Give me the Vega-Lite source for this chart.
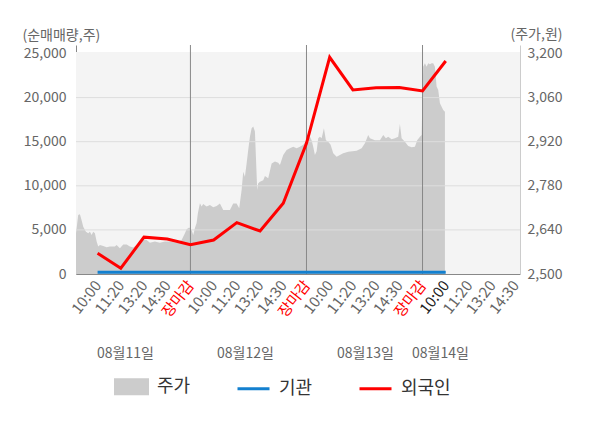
{
  "$schema": "https://vega.github.io/schema/vega-lite/v6.json",
  "width": 444,
  "height": 229,
  "autosize": {"type": "none"},
  "padding": {"left": 76, "top": 45, "right": 80, "bottom": 154},
  "config": {
    "view": {"stroke": null},
    "font": "Noto Sans CJK KR",
    "axis": {
      "labelFont": "Noto Sans CJK KR",
      "labelFontSize": 14,
      "labelColor": "#666666",
      "titleFont": "Noto Sans CJK KR",
      "titleFontSize": 14,
      "titleFontWeight": "normal",
      "titleColor": "#666666",
      "ticks": false,
      "grid": false,
      "domainColor": "#888888",
      "labelOverlap": false,
      "zindex": 1
    },
    "legend": {"labelFont": "Noto Sans CJK KR"}
  },
  "datasets": {
    "price": [
      {"t": 0.07, "price": 2629}, {"t": 0.166, "price": 2687}, {"t": 0.239, "price": 2690},
      {"t": 0.312, "price": 2671}, {"t": 0.381, "price": 2650}, {"t": 0.498, "price": 2634},
      {"t": 0.597, "price": 2629}, {"t": 0.67, "price": 2634}, {"t": 0.743, "price": 2624},
      {"t": 0.812, "price": 2634}, {"t": 0.885, "price": 2629}, {"t": 0.959, "price": 2603},
      {"t": 1.028, "price": 2587}, {"t": 1.101, "price": 2592}, {"t": 1.243, "price": 2589},
      {"t": 1.389, "price": 2585}, {"t": 1.532, "price": 2587}, {"t": 1.747, "price": 2587},
      {"t": 1.82, "price": 2592}, {"t": 1.962, "price": 2582}, {"t": 2.105, "price": 2594},
      {"t": 2.251, "price": 2594}, {"t": 2.393, "price": 2587}, {"t": 2.536, "price": 2584},
      {"t": 2.682, "price": 2592}, {"t": 2.824, "price": 2603}, {"t": 2.966, "price": 2610},
      {"t": 3.113, "price": 2608}, {"t": 3.255, "price": 2599}, {"t": 3.47, "price": 2603},
      {"t": 3.686, "price": 2599}, {"t": 3.901, "price": 2603}, {"t": 4.117, "price": 2603},
      {"t": 4.405, "price": 2599}, {"t": 4.621, "price": 2608}, {"t": 4.763, "price": 2629},
      {"t": 4.836, "price": 2642}, {"t": 4.948, "price": 2648}, {"t": 5.052, "price": 2640},
      {"t": 5.121, "price": 2624}, {"t": 5.194, "price": 2646}, {"t": 5.267, "price": 2662},
      {"t": 5.323, "price": 2694}, {"t": 5.409, "price": 2725}, {"t": 5.483, "price": 2714},
      {"t": 5.551, "price": 2722}, {"t": 5.698, "price": 2714}, {"t": 5.84, "price": 2719},
      {"t": 5.982, "price": 2712}, {"t": 6.129, "price": 2716}, {"t": 6.271, "price": 2724},
      {"t": 6.413, "price": 2703}, {"t": 6.702, "price": 2703}, {"t": 6.844, "price": 2724},
      {"t": 6.99, "price": 2724}, {"t": 7.102, "price": 2709}, {"t": 7.206, "price": 2767},
      {"t": 7.275, "price": 2825}, {"t": 7.348, "price": 2809}, {"t": 7.421, "price": 2851},
      {"t": 7.49, "price": 2894}, {"t": 7.564, "price": 2936}, {"t": 7.637, "price": 2963},
      {"t": 7.706, "price": 2968}, {"t": 7.779, "price": 2952}, {"t": 7.822, "price": 2872},
      {"t": 7.878, "price": 2767}, {"t": 7.921, "price": 2788}, {"t": 7.995, "price": 2793},
      {"t": 8.137, "price": 2798}, {"t": 8.21, "price": 2811}, {"t": 8.352, "price": 2804},
      {"t": 8.499, "price": 2851}, {"t": 8.641, "price": 2857}, {"t": 8.783, "price": 2853},
      {"t": 8.857, "price": 2846}, {"t": 8.999, "price": 2878}, {"t": 9.145, "price": 2894},
      {"t": 9.287, "price": 2899}, {"t": 9.429, "price": 2904}, {"t": 9.576, "price": 2899},
      {"t": 9.718, "price": 2904}, {"t": 9.86, "price": 2910}, {"t": 10.006, "price": 2925},
      {"t": 10.149, "price": 2936}, {"t": 10.222, "price": 2925}, {"t": 10.291, "price": 2904},
      {"t": 10.364, "price": 2878}, {"t": 10.437, "price": 2890}, {"t": 10.506, "price": 2931},
      {"t": 10.579, "price": 2936}, {"t": 10.653, "price": 2931}, {"t": 10.752, "price": 2963},
      {"t": 10.838, "price": 2925}, {"t": 10.937, "price": 2920}, {"t": 11.04, "price": 2910},
      {"t": 11.153, "price": 2883}, {"t": 11.299, "price": 2872}, {"t": 11.441, "price": 2878},
      {"t": 11.583, "price": 2883}, {"t": 11.799, "price": 2888}, {"t": 12.161, "price": 2891},
      {"t": 12.376, "price": 2899}, {"t": 12.518, "price": 2915}, {"t": 12.66, "price": 2941},
      {"t": 12.734, "price": 2931}, {"t": 12.949, "price": 2925}, {"t": 13.165, "price": 2925},
      {"t": 13.307, "price": 2941}, {"t": 13.423, "price": 2931}, {"t": 13.522, "price": 2936},
      {"t": 13.669, "price": 2928}, {"t": 13.811, "price": 2931}, {"t": 13.953, "price": 2936},
      {"t": 14.026, "price": 2976}, {"t": 14.099, "price": 2931}, {"t": 14.241, "price": 2920},
      {"t": 14.384, "price": 2906}, {"t": 14.53, "price": 2902}, {"t": 14.672, "price": 2904},
      {"t": 14.771, "price": 2925}, {"t": 14.888, "price": 2936}, {"t": 14.961, "price": 2941},
      {"t": 15.03, "price": 3158}, {"t": 15.103, "price": 3169}, {"t": 15.177, "price": 3158},
      {"t": 15.246, "price": 3169}, {"t": 15.319, "price": 3166}, {"t": 15.392, "price": 3169},
      {"t": 15.461, "price": 3169}, {"t": 15.534, "price": 3158}, {"t": 15.607, "price": 3095},
      {"t": 15.677, "price": 3084}, {"t": 15.75, "price": 3042}, {"t": 15.823, "price": 3031},
      {"t": 15.892, "price": 3021}, {"t": 15.965, "price": 3015}
    ],
    "flow": [
      {"t": 1, "series": "기관", "value": 200}, {"t": 2, "series": "기관", "value": 200},
      {"t": 3, "series": "기관", "value": 200}, {"t": 4, "series": "기관", "value": 200},
      {"t": 5, "series": "기관", "value": 200}, {"t": 6, "series": "기관", "value": 200},
      {"t": 7, "series": "기관", "value": 200}, {"t": 8, "series": "기관", "value": 200},
      {"t": 9, "series": "기관", "value": 200}, {"t": 10, "series": "기관", "value": 200},
      {"t": 11, "series": "기관", "value": 200}, {"t": 12, "series": "기관", "value": 200},
      {"t": 13, "series": "기관", "value": 200}, {"t": 14, "series": "기관", "value": 200},
      {"t": 15, "series": "기관", "value": 200}, {"t": 16, "series": "기관", "value": 200},
      {"t": 1, "series": "외국인", "value": 2350}, {"t": 2, "series": "외국인", "value": 650},
      {"t": 3, "series": "외국인", "value": 4180}, {"t": 4, "series": "외국인", "value": 3970},
      {"t": 5, "series": "외국인", "value": 3330}, {"t": 6, "series": "외국인", "value": 3855},
      {"t": 7, "series": "외국인", "value": 5820}, {"t": 8, "series": "외국인", "value": 4875},
      {"t": 9, "series": "외국인", "value": 8020}, {"t": 10, "series": "외국인", "value": 14820},
      {"t": 11, "series": "외국인", "value": 24570}, {"t": 12, "series": "외국인", "value": 20870},
      {"t": 13, "series": "외국인", "value": 21130}, {"t": 14, "series": "외국인", "value": 21150},
      {"t": 15, "series": "외국인", "value": 20750}, {"t": 16, "series": "외국인", "value": 24150}
    ],
    "days": [{"t": 5}, {"t": 10}, {"t": 15}],
    "grid": [{"v": 5000}, {"v": 10000}, {"v": 15000}, {"v": 20000}]
  },
  "layer": [
    {
      "data": {"values": [{}]},
      "mark": {"type": "rect", "color": "#f4f4f4"},
      "encoding": {
        "x": {
          "datum": 0.07,
          "type": "quantitative",
          "scale": {"domain": [0.07, 19.2], "nice": false, "zero": false},
          "axis": {
            "orient": "bottom",
            "values": [2.18, 7.35, 12.52, 15.75],
            "labelExpr": "datum.value < 5 ? '08월11일' : datum.value < 10 ? '08월12일' : datum.value < 15 ? '08월13일' : '08월14일'",
            "labelAngle": 0,
            "labelAlign": "center",
            "labelBaseline": "top",
            "offset": 68,
            "labelPadding": 4,
            "domain": false,
            "ticks": false,
            "labelOverlap": false,
            "labelFlush": false,
            "title": null
          }
        },
        "x2": {"datum": 19.2},
        "y": {
          "datum": 0,
          "type": "quantitative",
          "scale": {"domain": [0, 25964], "nice": false},
          "axis": null
        },
        "y2": {"datum": 25170}
      }
    },
    {
      "data": {"name": "price"},
      "mark": {"type": "area", "interpolate": "linear"},
      "encoding": {
        "x": {"field": "t", "type": "quantitative", "axis": null},
        "y": {
          "field": "price",
          "type": "quantitative",
          "scale": {"domain": [2500, 3227], "nice": false, "zero": false},
          "axis": {
            "orient": "right",
            "values": [2500, 2640, 2780, 2920, 3060, 3200],
            "format": ",.0f",
            "title": "(주가,원)",
            "titleAngle": 0,
            "titleAlign": "right",
            "titleBaseline": "middle",
            "titleX": 42,
            "titleY": -11,
            "labelPadding": 7,
            "domainColor": "#cccccc"
          }
        },
        "y2": {"datum": 2500},
        "color": {"datum": "주가"}
      }
    },
    {
      "data": {"name": "grid"},
      "mark": {"type": "rule", "color": "#dddddd", "strokeWidth": 1},
      "encoding": {
        "y": {"field": "v", "type": "quantitative", "scale": {"domain": [0, 25964], "nice": false}, "axis": null}
      }
    },
    {
      "data": {"name": "days"},
      "mark": {"type": "rule", "color": "#888888", "strokeWidth": 1},
      "encoding": {
        "x": {"field": "t", "type": "quantitative", "axis": null}
      }
    },
    {
      "data": {"name": "flow"},
      "mark": {"type": "line", "strokeWidth": 3},
      "encoding": {
        "x": {
          "field": "t",
          "type": "quantitative",
          "scale": {"domain": [0.07, 19.2], "nice": false, "zero": false},
          "axis": {
            "orient": "bottom",
            "values": [1, 2, 3, 4, 5, 6, 7, 8, 9, 10, 11, 12, 13, 14, 15, 16, 17, 18, 19],
            "labelExpr": "['10:00','11:20','13:20','14:30','장마감'][(datum.value - 1) % 5]",
            "labelAngle": -52,
            "labelAlign": "right",
            "labelBaseline": "middle",
            "labelFontSize": 15,
            "labelPadding": 8,
            "labelOverlap": false,
            "labelFlush": false,
            "labelColor": {
              "condition": [
                {"test": "datum.value % 5 === 0", "value": "#ff0000"},
                {"test": "datum.value === 16", "value": "#222222"}
              ],
              "value": "#666666"
            },
            "title": null
          }
        },
        "y": {
          "field": "value",
          "type": "quantitative",
          "scale": {"domain": [0, 25964], "nice": false},
          "axis": {
            "orient": "left",
            "values": [0, 5000, 10000, 15000, 20000, 25000],
            "format": ",.0f",
            "title": "(순매매량,주)",
            "titleAngle": 0,
            "titleAlign": "left",
            "titleBaseline": "middle",
            "titleX": -54,
            "titleY": -10,
            "labelPadding": 10
          }
        },
        "color": {
          "field": "series",
          "type": "nominal",
          "scale": {"domain": ["주가", "기관", "외국인"], "range": ["#cccccc", "#1380cf", "#ff0000"]},
          "legend": {
            "orient": "none",
            "legendX": 38,
            "legendY": 324,
            "direction": "horizontal",
            "title": null,
            "padding": 0,
            "labelFontSize": 18,
            "labelColor": "#333333",
            "labelOffset": 8,
            "columnPadding": 40,
            "symbolSize": 1024,
            "labelExpr": "datum.label === '기관' ? '기관     ' : datum.label",
            "encode": {
              "symbols": {
                "update": {
                  "shape": {"signal": "datum.value === '주가' ? 'M-1,-0.44H1V0.44H-1Z' : 'M-1,0H1'"},
                  "size": {"value": 1024},
                  "fill": {"signal": "datum.value === '주가' ? '#cccccc' : 'transparent'"},
                  "stroke": {"signal": "datum.value === '기관' ? '#1380cf' : datum.value === '외국인' ? '#ff0000' : 'transparent'"},
                  "strokeWidth": {"value": 3},
                  "opacity": {"value": 1}
                }
              }
            }
          }
        }
      }
    }
  ],
  "resolve": {
    "scale": {"y": "independent"},
    "axis": {"x": "independent", "y": "independent"}
  }
}
